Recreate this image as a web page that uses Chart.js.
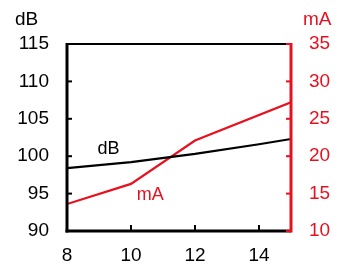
<!DOCTYPE html>
<html>
<head>
<meta charset="utf-8">
<script src="https://cdn.jsdelivr.net/npm/chart.js@4"></script>
<style>
  html, body { margin: 0; padding: 0; background: #fff; }
  #wrap { width: 339px; height: 266px; }
</style>
</head>
<body>
<div id="wrap"><canvas id="chart" width="339" height="266"></canvas></div>
<script>
// Data
const dbX = [8, 10, 12, 14, 15];
const dbValues = [98.4, 99.2, 100.3, 101.6, 102.3];
const maX = [8, 10, 12, 15];
const maValues = [13.6, 16.3, 22.1, 27.2];
const xTicks = [8, 10, 12, 14];
const dbTicks = [90, 95, 100, 105, 110, 115];
const maTicks = [10, 15, 20, 25, 30, 35];

const RED = '#e8101e';
const FONT = 'Liberation Sans, Arial, Helvetica, sans-serif';

const toPoints = (xs, ys) => xs.map((x, i) => ({ x: x, y: ys[i] }));

// axes, inward ticks and labels drawn over the chart area
const axisPlugin = {
    id: 'axisPlugin',
    afterDraw(chart) {
        const ctx = chart.ctx;
        const a = chart.chartArea;
        const sx = chart.scales.x, sy = chart.scales.y, sy1 = chart.scales.y1;
        ctx.save();
        ctx.lineCap = 'butt';

        // top frame line
        ctx.strokeStyle = '#000';
        ctx.lineWidth = 2;
        ctx.beginPath(); ctx.moveTo(a.left, a.top); ctx.lineTo(a.right, a.top); ctx.stroke();

        // left axis + ticks
        ctx.lineWidth = 3;
        ctx.beginPath(); ctx.moveTo(a.left, a.top - 1); ctx.lineTo(a.left, a.bottom + 1.5); ctx.stroke();
        ctx.lineWidth = 2;
        dbTicks.forEach(v => {
            const y = sy.getPixelForValue(v);
            ctx.beginPath(); ctx.moveTo(a.left, y); ctx.lineTo(a.left + 5, y); ctx.stroke();
        });

        // bottom axis + ticks
        ctx.lineWidth = 3;
        ctx.beginPath(); ctx.moveTo(a.left - 1.5, a.bottom); ctx.lineTo(a.right, a.bottom); ctx.stroke();
        ctx.lineWidth = 2;
        xTicks.forEach(v => {
            const x = sx.getPixelForValue(v);
            ctx.beginPath(); ctx.moveTo(x, a.bottom); ctx.lineTo(x, a.bottom - 6); ctx.stroke();
        });

        // right axis + ticks (red)
        ctx.strokeStyle = RED;
        ctx.lineWidth = 3;
        ctx.beginPath(); ctx.moveTo(a.right, a.top - 1); ctx.lineTo(a.right, a.bottom + 1.5); ctx.stroke();
        ctx.lineWidth = 2;
        maTicks.forEach(v => {
            const y = sy1.getPixelForValue(v);
            ctx.beginPath(); ctx.moveTo(a.right, y); ctx.lineTo(a.right - 5, y); ctx.stroke();
        });

        // unit titles
        ctx.font = '19px ' + FONT;
        ctx.textBaseline = 'middle';
        ctx.textAlign = 'left';
        ctx.fillStyle = '#000';
        ctx.fillText('dB', 15, 20);
        ctx.fillStyle = RED;
        ctx.fillText('mA', 303, 20);

        // series labels
        ctx.font = '18px ' + FONT;
        ctx.textAlign = 'center';
        ctx.fillStyle = '#000';
        ctx.fillText('dB', sx.getPixelForValue(9.3), sy.getPixelForValue(101.0));
        ctx.fillStyle = RED;
        ctx.fillText('mA', sx.getPixelForValue(10.6), sy1.getPixelForValue(14.8));
        ctx.restore();
    }
};

const hiddenGrid = { display: false, drawTicks: false, tickLength: 0 };

new Chart(document.getElementById('chart'), {
    type: 'line',
    data: {
        datasets: [
            { label: 'dB', data: toPoints(dbX, dbValues), yAxisID: 'y', borderColor: '#000', borderWidth: 2.2, pointRadius: 0, tension: 0 },
            { label: 'mA', data: toPoints(maX, maValues), yAxisID: 'y1', borderColor: RED, borderWidth: 2.2, pointRadius: 0, tension: 0 }
        ]
    },
    plugins: [axisPlugin],
    options: {
        responsive: false,
        animation: false,
        devicePixelRatio: 1,
        layout: { padding: { top: 44, left: 0, right: 0, bottom: 0 } },
        plugins: { legend: { display: false }, tooltip: { enabled: false } },
        scales: {
            x: {
                type: 'linear', min: 8, max: 15,
                grid: hiddenGrid, border: { display: false },
                afterBuildTicks: s => { s.ticks = xTicks.map(v => ({ value: v })); },
                afterFit: s => { s.height = 35; },
                ticks: { padding: 13, maxRotation: 0, color: '#000', font: { family: FONT, size: 19 } }
            },
            y: {
                position: 'left', min: 90, max: 115,
                grid: hiddenGrid, border: { display: false },
                afterBuildTicks: s => { s.ticks = dbTicks.map(v => ({ value: v })); },
                afterFit: s => { s.width = 67; },
                ticks: { padding: 18, color: '#000', font: { family: FONT, size: 19 } }
            },
            y1: {
                position: 'right', min: 10, max: 35,
                grid: hiddenGrid, border: { display: false },
                afterBuildTicks: s => { s.ticks = maTicks.map(v => ({ value: v })); },
                afterFit: s => { s.width = 48; },
                ticks: { padding: 18, color: RED, font: { family: FONT, size: 19 } }
            }
        }
    }
});
</script>
</body>
</html>
